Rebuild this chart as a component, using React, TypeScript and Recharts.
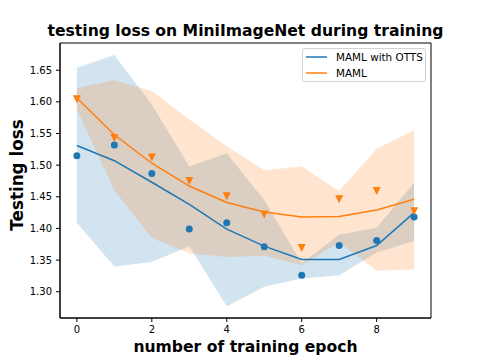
import React from 'react'
import { ComposedChart, Area, Line, Scatter, XAxis, YAxis, Legend, ReferenceArea } from 'recharts'

const epochs = [0, 1, 2, 3, 4, 5, 6, 7, 8, 9]

// MAML with OTTS (blue)
const ottsMean = [1.531, 1.507, 1.473, 1.438, 1.399, 1.372, 1.351, 1.351, 1.373, 1.425]
const ottsPoints = [1.515, 1.532, 1.487, 1.399, 1.409, 1.371, 1.326, 1.373, 1.381, 1.418]
const ottsUpper = [1.654, 1.674, 1.596, 1.498, 1.519, 1.445, 1.345, 1.39, 1.401, 1.472]
const ottsLower = [1.409, 1.34, 1.347, 1.372, 1.277, 1.308, 1.321, 1.326, 1.362, 1.38]

// MAML (orange)
const mamlMean = [1.606, 1.548, 1.503, 1.467, 1.441, 1.426, 1.418, 1.419, 1.429, 1.446]
const mamlPoints = [1.604, 1.543, 1.512, 1.475, 1.451, 1.422, 1.369, 1.446, 1.459, 1.427]
const mamlUpper = [1.622, 1.634, 1.617, 1.572, 1.53, 1.492, 1.498, 1.459, 1.526, 1.555]
const mamlLower = [1.588, 1.46, 1.385, 1.361, 1.355, 1.357, 1.342, 1.378, 1.333, 1.335]

const xTicks = [0, 2, 4, 6, 8]
const yTicks = [1.3, 1.35, 1.4, 1.45, 1.5, 1.55, 1.6, 1.65]

const BLUE = '#1f77b4'
const ORANGE = '#ff7f0e'
const FONT = '"DejaVu Sans", sans-serif'

const X_DOMAIN = [-0.45, 9.45]
const Y_DOMAIN = [1.2585, 1.693]

const data = epochs.map((e, i) => ({
  epoch: e,
  ottsBand: [ottsLower[i], ottsUpper[i]],
  mamlBand: [mamlLower[i], mamlUpper[i]],
  ottsMean: ottsMean[i],
  mamlMean: mamlMean[i],
  ottsPoint: ottsPoints[i],
  mamlPoint: mamlPoints[i],
}))

const Circle = (props: any) => {
  const { cx, cy } = props
  return <circle cx={cx} cy={cy} r={3.5} fill={BLUE} />
}

const TriangleDown = (props: any) => {
  const { cx, cy } = props
  const s = 4
  return <path d={`M${cx - s},${cy - s} L${cx + s},${cy - s} L${cx},${cy + s} Z`} fill={ORANGE} />
}

const LegendBox = () => {
  const row = (color: string, text: string) => (
    <div style={{ display: 'flex', alignItems: 'center', height: 16 }}>
      <svg width={21} height={4} style={{ marginLeft: 3, marginRight: 9, flexShrink: 0 }}>
        <line x1={0} x2={21} y1={2} y2={2} stroke={color} strokeWidth={1.5} />
      </svg>
      <span>{text}</span>
    </div>
  )
  return (
    <div
      style={{
        border: '1px solid #d4d4d4',
        borderRadius: 3,
        background: 'rgba(255,255,255,0.8)',
        padding: '0',
        fontFamily: FONT,
        fontSize: 10.4,
        color: '#000',
        width: 124,
        whiteSpace: 'nowrap',
        boxSizing: 'border-box',
      }}
    >
      {row(BLUE, 'MAML with OTTS')}
      {row(ORANGE, 'MAML')}
    </div>
  )
}

const labelStyle: React.CSSProperties = {
  position: 'absolute',
  fontFamily: FONT,
  fontWeight: 'bold',
  color: '#000',
  whiteSpace: 'nowrap',
  lineHeight: 1,
}

export default function App() {
  return (
    <div style={{ position: 'absolute', left: 0, top: 0, width: 479, height: 359, background: '#fff' }}>
      <div style={{ ...labelStyle, left: 0, width: 491, top: 24, textAlign: 'center', fontSize: 15.6 }}>
        testing loss on MiniImageNet during training
      </div>
      <ComposedChart
        width={479}
        height={359}
        data={data}
        margin={{ top: 43, right: 48, bottom: 11, left: 0 }}
      >
        <XAxis
          dataKey="epoch"
          type="number"
          domain={X_DOMAIN}
          ticks={xTicks}
          allowDataOverflow
          height={30}
          tickSize={4}
          tickMargin={4}
          stroke="#000"
          tick={{ fill: '#000', fontSize: 10, fontFamily: FONT }}
        />
        <YAxis
          type="number"
          domain={Y_DOMAIN}
          ticks={yTicks}
          allowDataOverflow
          width={60}
          tickSize={4}
          tickMargin={4}
          stroke="#000"
          tickFormatter={(v: number) => v.toFixed(2)}
          tick={{ fill: '#000', fontSize: 10, fontFamily: FONT }}
        />
        <Area
          dataKey="ottsBand"
          stroke="none"
          fill={BLUE}
          fillOpacity={0.2}
          isAnimationActive={false}
          activeDot={false}
          legendType="none"
        />
        <Area
          dataKey="mamlBand"
          stroke="none"
          fill={ORANGE}
          fillOpacity={0.2}
          isAnimationActive={false}
          activeDot={false}
          legendType="none"
        />
        <Line
          dataKey="ottsMean"
          stroke={BLUE}
          strokeWidth={1.5}
          dot={false}
          type="linear"
          isAnimationActive={false}
        />
        <Line
          dataKey="mamlMean"
          stroke={ORANGE}
          strokeWidth={1.5}
          dot={false}
          type="linear"
          isAnimationActive={false}
        />
        <Scatter dataKey="ottsPoint" shape={Circle} isAnimationActive={false} legendType="none" />
        <Scatter dataKey="mamlPoint" shape={TriangleDown} isAnimationActive={false} legendType="none" />
        <ReferenceArea
          x1={X_DOMAIN[0]}
          x2={X_DOMAIN[1]}
          y1={Y_DOMAIN[0]}
          y2={Y_DOMAIN[1]}
          fill="none"
          stroke="#000"
          strokeWidth={1}
          ifOverflow="visible"
        />
        <Legend
          layout="vertical"
          align="center"
          verticalAlign="middle"
          content={() => <LegendBox />}
          wrapperStyle={{ left: 302, top: 48, width: 124 }}
        />
      </ComposedChart>
      <div style={{ ...labelStyle, left: 60, width: 371, top: 340, textAlign: 'center', fontSize: 15.6 }}>
        number of training epoch
      </div>
      <div
        style={{
          ...labelStyle,
          left: 17,
          top: 175,
          fontSize: 16.8,
          transform: 'translate(-50%, -50%) rotate(-90deg)',
        }}
      >
        Testing loss
      </div>
    </div>
  )
}
